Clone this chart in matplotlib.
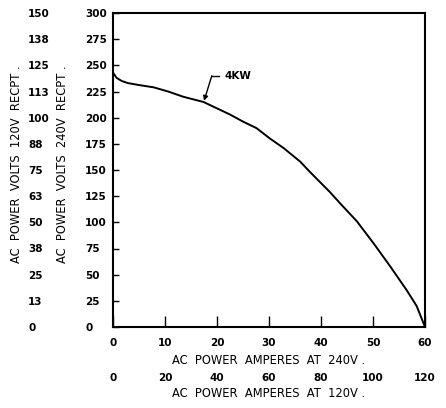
#!/usr/bin/env python

"""Generator set output: AC voltage against load current, 4KW curve"""

from matplotlib import pyplot

# amperes at 240V and volts at the 240V receptacle
amps_240 = [0, 0.7, 1.7, 2.9, 5.2, 7.8, 10.6, 13.5, 17.4, 22.5, 25.1, 27.6,
            30.2, 32.8, 36.0, 37.9, 41.7, 43.7, 46.9, 50.1, 53.3, 56.5, 58.4, 60]
volts_240 = [243, 238, 235, 233, 231, 229, 225, 220, 215, 203, 196, 190,
             180, 171, 158, 148, 129, 118, 101, 80, 58, 35, 20, 0]

x_ticks_240 = [0, 10, 20, 30, 40, 50, 60]
x_ticks_120 = [0, 20, 40, 60, 80, 100, 120]
y_ticks_240 = [0, 25, 50, 75, 100, 125, 150, 175, 200, 225, 250, 275, 300]
y_ticks_120 = [0, 12.5, 25, 37.5, 50, 62.5, 75, 87.5, 100, 112.5, 125, 137.5, 150]
y_labels_120 = ["0", "13", "25", "38", "50", "63", "75", "88", "100", "113",
                "125", "138", "150"]

curve_label = "4KW"

TICK_FONT = dict(family="DejaVu Sans", weight="bold", size=7.5)
LABEL_FONT = dict(family="DejaVu Sans", size=8.3)


def draw_chart():
    fig = pyplot.figure(figsize=(4.46, 4.08), dpi=100)
    ax = fig.add_axes([113 / 446, 1 - 327 / 408, 312 / 446, 314 / 408])

    ax.plot(amps_240, volts_240, color="black", lw=1.4,
            solid_capstyle="round", solid_joinstyle="round")

    ax.set_xlim(0, 60)
    ax.set_ylim(0, 300)
    for side in ax.spines.values():
        side.set_linewidth(1.5)

    # inner (240V) scales
    ax.set_xticks(x_ticks_240)
    ax.set_xticklabels([str(v) for v in x_ticks_240], **TICK_FONT)
    ax.set_yticks(y_ticks_240)
    ax.set_yticklabels([str(v) for v in y_ticks_240], ha="left", **TICK_FONT)
    ax.tick_params(axis="x", direction="in", length=7.7, width=1, pad=8)
    ax.tick_params(axis="y", direction="in", length=4, width=1, pad=20)
    ax.set_xlabel("AC  POWER  AMPERES  AT  240V .", labelpad=4, **LABEL_FONT)

    # outer (120V) scales
    sec_x = ax.secondary_xaxis(-0.145, functions=(lambda a: a * 2, lambda a: a / 2))
    sec_x.set_xticks(x_ticks_120)
    sec_x.set_xticklabels([str(v) for v in x_ticks_120], **TICK_FONT)
    sec_x.tick_params(length=0, pad=0)
    sec_x.spines["bottom"].set_visible(False)
    sec_x.set_xlabel("AC  POWER  AMPERES  AT  120V .", labelpad=3, **LABEL_FONT)

    sec_y = ax.secondary_yaxis(-0.272, functions=(lambda v: v / 2, lambda v: v * 2))
    sec_y.set_yticks(y_ticks_120)
    sec_y.set_yticklabels(y_labels_120, ha="left", **TICK_FONT)
    sec_y.tick_params(length=0, pad=0)
    sec_y.spines["left"].set_visible(False)

    ax.text(-0.163, 0.5175, "AC  POWER  VOLTS  240V  RECPT .", rotation=90,
            ha="center", va="center", transform=ax.transAxes, **LABEL_FONT)
    ax.text(-0.308, 0.5175, "AC  POWER  VOLTS  120V  RECPT .", rotation=90,
            ha="center", va="center", transform=ax.transAxes, **LABEL_FONT)

    # curve label with its bent leader
    ax.text(21.5, 240, curve_label, va="center", ha="left", **TICK_FONT)
    ax.plot([19.0, 20.4], [240, 240], color="black", lw=1)
    ax.annotate("", xy=(17.5, 216), xytext=(19.0, 240),
                arrowprops=dict(arrowstyle="-|>", color="black", lw=1,
                                shrinkA=0, shrinkB=0, mutation_scale=7))
    return fig


if __name__ == "__main__":
    fig = draw_chart()
    fig.savefig("out.png", dpi=100)
    pyplot.close()
